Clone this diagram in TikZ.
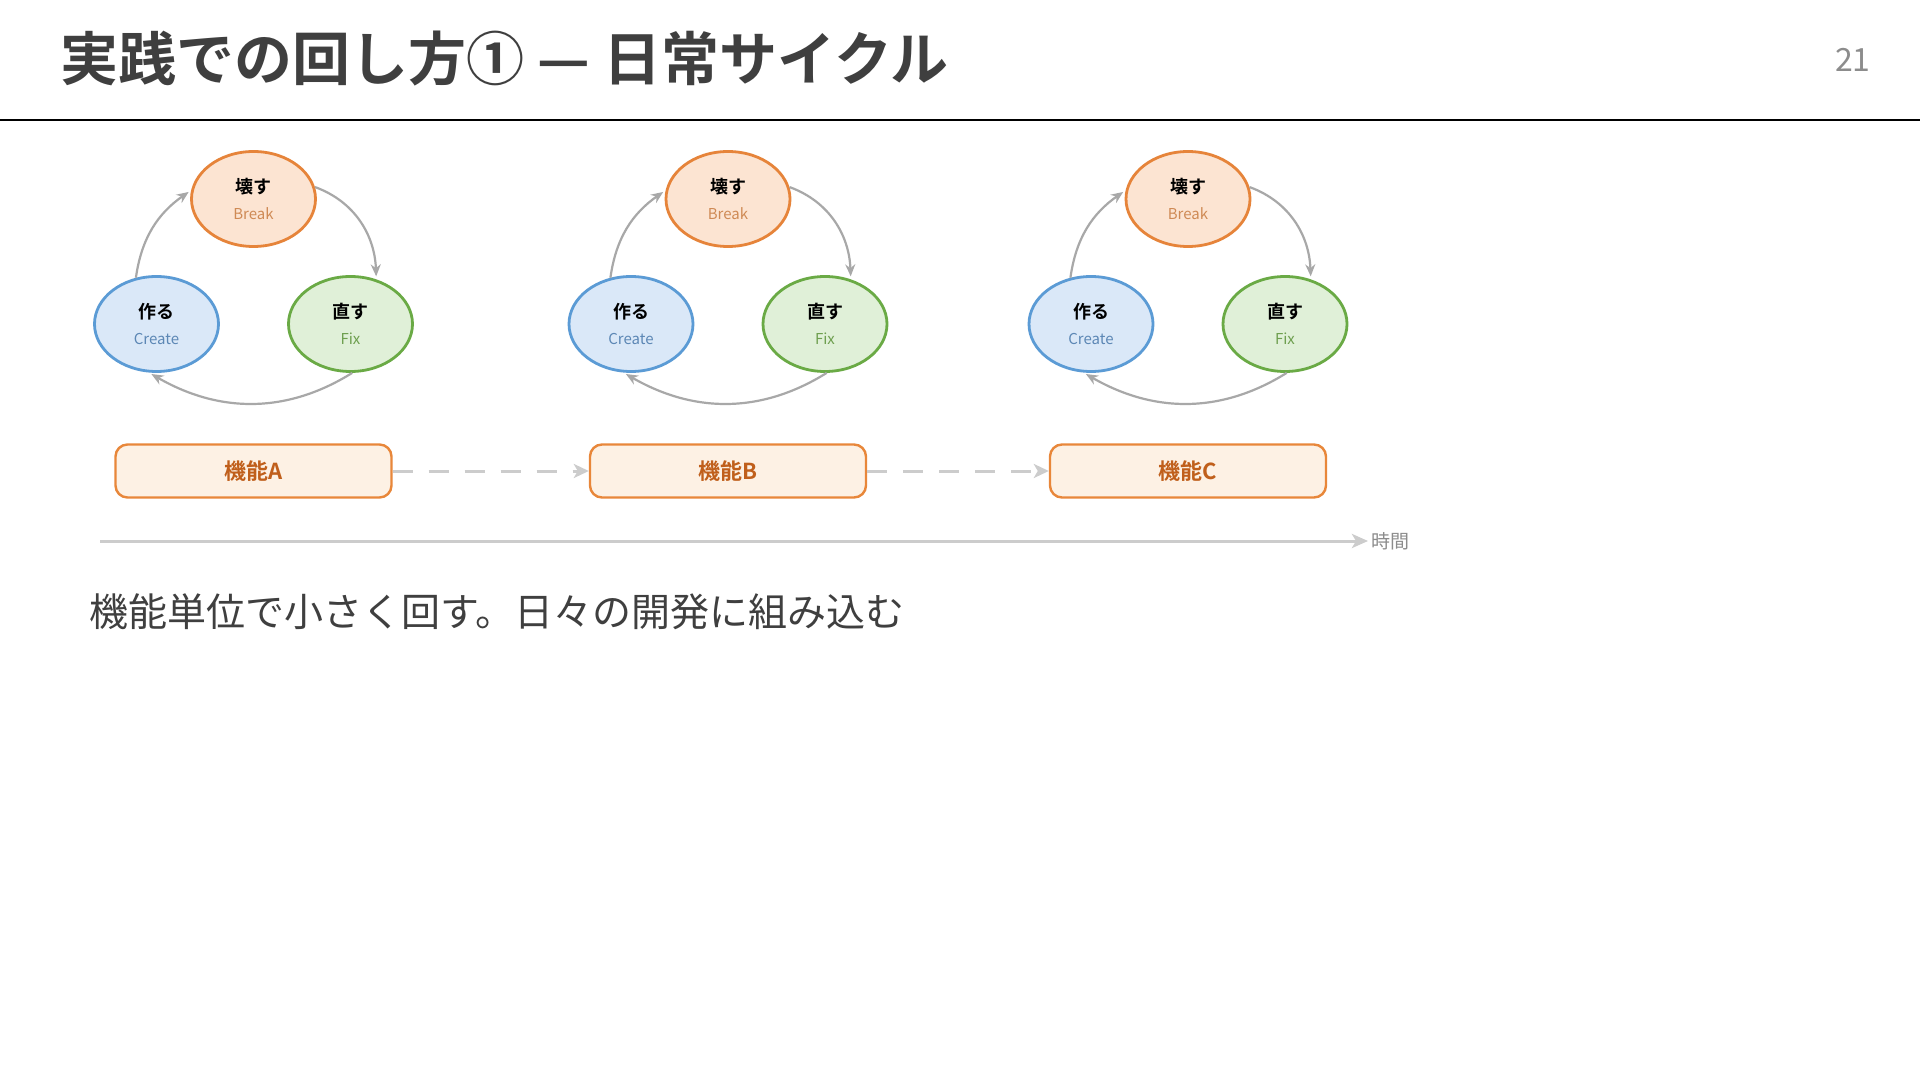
\documentclass[tikz,border=0pt]{standalone}
\usepackage{fontspec}
\setmainfont{Noto Sans CJK JP}[BoldFont={Noto Sans CJK JP Bold}]
\usepackage{tikz}
\usetikzlibrary{arrows.meta,positioning,shapes.geometric}
\definecolor{titlegray}{HTML}{3F3F3F}
\definecolor{pagegray}{HTML}{8C8C8C}
\definecolor{arrgray}{HTML}{A8A8A8}
\definecolor{lightgray}{HTML}{CCCCCC}
\definecolor{brkfill}{HTML}{FCE4D2}
\definecolor{brkline}{HTML}{E6843A}
\definecolor{brktext}{HTML}{CF8A55}
\definecolor{mkfill}{HTML}{DAE8F8}
\definecolor{mkline}{HTML}{5B9BD5}
\definecolor{mktext}{HTML}{5C87B5}
\definecolor{fixfill}{HTML}{E0F0D8}
\definecolor{fixline}{HTML}{6AAA45}
\definecolor{fixtext}{HTML}{6E9F4F}
\definecolor{boxfill}{HTML}{FDF1E4}
\definecolor{boxline}{HTML}{E8873A}
\definecolor{boxtext}{HTML}{C05F1B}
\newcommand{\phaselbl}[3]{{\bfseries\fontsize{9}{10}\selectfont #1}\\[1pt]{\fontsize{7.5}{8}\selectfont\color{#3}#2}}

\begin{document}
\begin{tikzpicture}[x=0.5pt,y=-0.5pt,
  phase/.style={ellipse,line width=1.4pt,minimum width=62pt,minimum height=47.5pt,inner sep=0pt,align=center},
  cyc/.style={-{Stealth[length=6pt,width=5pt]},draw=arrgray,line width=1.1pt,shorten >=1.5pt},
  featbox/.style={rounded corners=6pt,draw=boxline,fill=boxfill,line width=1.2pt,minimum width=138pt,minimum height=26.5pt,inner sep=0pt,font=\bfseries\fontsize{11}{13}\selectfont,text=boxtext},
  flow/.style={-{Stealth[length=7.5pt,width=7pt,inset=2pt]},draw=lightgray,line width=1.5pt,dash pattern=on 10pt off 8pt}]
\path[fill=white,use as bounding box] (0,0) rectangle (1920,1080);

% header
\node[anchor=west,inner sep=0pt,text=titlegray,font=\bfseries\fontsize{29}{33}\selectfont] (title) at (60,59) {実践での回し方① — 日常サイクル};
\node[anchor=east,inner sep=0pt,text=pagegray,font=\fontsize{16}{18}\selectfont] (pageno) at (1871,60) {21};
\coordinate (rulel) at (0,120);
\coordinate (ruler) at (1920,120);
\draw[line width=1pt] (rulel) -- (ruler);

% one cycle per feature
\foreach \cx/\fid [count=\i] in {253.5/A,728/B,1188/C}{
  \node[phase,draw=brkline,fill=brkfill] (break\i) at (\cx,199) {\phaselbl{壊す}{Break}{brktext}};
  \node[phase,draw=mkline,fill=mkfill] (create\i) at (\cx-97,324) {\phaselbl{作る}{Create}{mktext}};
  \node[phase,draw=fixline,fill=fixfill] (fix\i) at (\cx+97,324) {\phaselbl{直す}{Fix}{fixtext}};
  \draw[cyc] (create\i.114) to[out=82,in=215] (break\i.172);
  \draw[cyc] (break\i.11) to[out=-20,in=92] (fix\i.60);
  \draw[cyc] (fix\i.272) to[out=212,in=-30] (create\i.-99);
  \node[featbox] (feat\i) at (\cx,471) {機能\fid};
}
\draw[flow] (feat1) -- (feat2);
\draw[flow] (feat2) -- (feat3);

% time axis
\coordinate (t0) at (100,541);
\coordinate (t1) at (1368,541);
\draw[-{Stealth[length=8pt,width=7pt,inset=2pt]},draw=lightgray,line width=1.5pt] (t0) -- (t1);
\node[anchor=west,inner sep=1.5pt,text=pagegray,font=\fontsize{9.5}{11}\selectfont] (timelbl) at (t1) {時間};

\node[anchor=west,inner sep=0pt,text=titlegray,font=\fontsize{19.5}{22}\selectfont] (summary) at (89,612) {機能単位で小さく回す。日々の開発に組み込む};
\end{tikzpicture}
\end{document}
